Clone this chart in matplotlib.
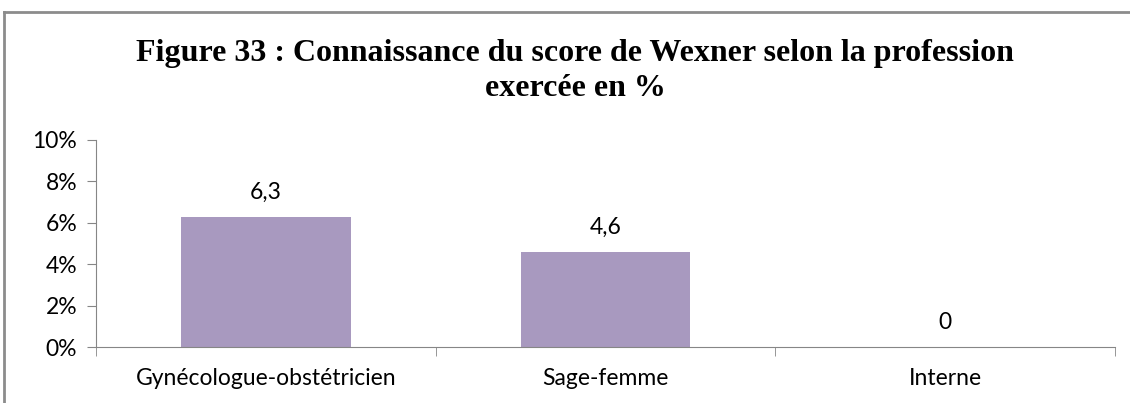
import matplotlib.pyplot as plt
import numpy as np
from matplotlib.lines import Line2D

professions = ["Gynécologue-obstétricien", "Sage-femme", "Interne"]
wexner_pct = [6.3, 4.6, 0]
value_labels = ["6,3", "4,6", "0"]
y_ticks = [0, 2, 4, 6, 8, 10]

bar_color = "#A899BF"
axis_color = "#868686"
label_font = "Lato"
label_size = 16.5

fig = plt.figure(figsize=(11.3, 4.03), dpi=100)

# grey frame around the chart area (top and left edges)
fig.add_artist(Line2D([4 / 1130, 1], [1 - 12 / 403, 1 - 12 / 403],
                      color="#8c8c8c", lw=2, transform=fig.transFigure))
fig.add_artist(Line2D([4 / 1130, 4 / 1130], [0, 1 - 12 / 403],
                      color="#8c8c8c", lw=2, transform=fig.transFigure))

title_x = 575 / 1130
fig.text(title_x, 1 - 53 / 403, "Figure 33 : Connaissance du score de Wexner selon la profession",
         ha="center", va="center", fontsize=23, fontweight="bold",
         family="Liberation Serif")
fig.text(title_x, 1 - 89 / 403, "exercée en %", ha="center", va="center",
         fontsize=23, fontweight="bold", family="Liberation Serif")

ax = fig.add_axes([96 / 1130, 56 / 403, (1115 - 96) / 1130, 207 / 403])
x = np.arange(len(professions))
bars = ax.bar(x, wexner_pct, width=0.5, color=bar_color)

for xi, val, lab in zip(x, wexner_pct, value_labels):
    ax.annotate(lab, (xi, val), xytext=(0, 10), textcoords="offset points",
                ha="center", va="bottom", fontsize=label_size, family=label_font)

ax.set_xlim(-0.5, len(professions) - 0.5)
ax.set_ylim(0, 10)
ax.set_yticks(y_ticks)
ax.set_yticklabels([f"{t}%" for t in y_ticks], fontsize=label_size, family=label_font)

ax.set_xticks(x)
ax.set_xticklabels(professions, fontsize=label_size, family=label_font)
ax.tick_params(axis="x", length=0, pad=15)
ax.set_xticks(np.arange(len(professions) + 1) - 0.5, minor=True)
ax.tick_params(axis="x", which="minor", length=6.5, color=axis_color, direction="out")
ax.tick_params(axis="y", length=6.5, color=axis_color, pad=7)

for side in ["top", "right"]:
    ax.spines[side].set_visible(False)
for side in ["left", "bottom"]:
    ax.spines[side].set_color(axis_color)

plt.savefig("out.png")
plt.close()
